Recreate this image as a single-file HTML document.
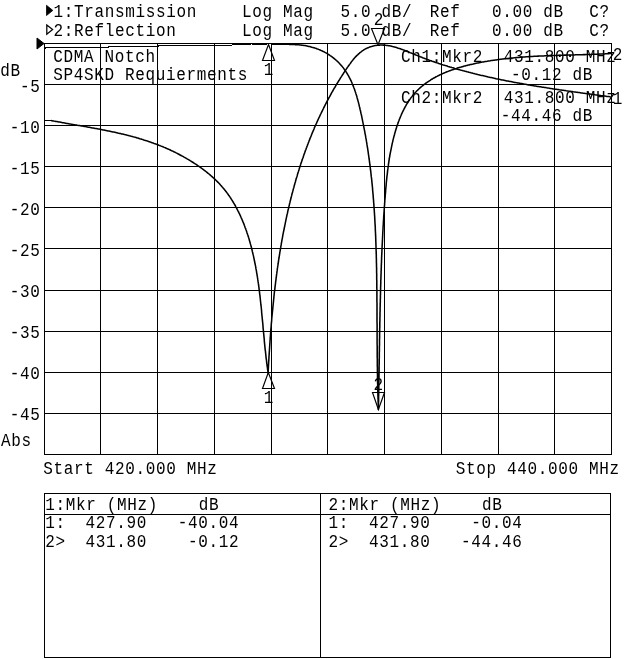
<!DOCTYPE html>
<html><head><meta charset="utf-8"><title>Network analyzer plot</title>
<style>
html,body{margin:0;padding:0;background:#fff}
body{width:640px;height:659px;overflow:hidden;position:relative}
svg{position:absolute;left:0;top:0;display:block}
text{font-family:"Liberation Mono",monospace;font-size:16.0px;letter-spacing:0.65px;fill:#000;white-space:pre}
.g line,.g rect{stroke:#000;stroke-width:1;fill:none;shape-rendering:crispEdges;stroke-linecap:square}
.tr{fill:none;stroke:#000;stroke-width:1.55;stroke-linejoin:round}
.trh{fill:none;stroke:#000;stroke-width:1;shape-rendering:crispEdges}
.mk{fill:none;stroke:#000;stroke-width:1.15}
</style></head><body>
<svg width="640" height="659" viewBox="0 0 640 659">
<rect x="0" y="0" width="640" height="659" fill="#fff"/>
<g class="g">
<line x1="44.50" y1="43.5" x2="44.50" y2="454.5"/>
<line x1="100.50" y1="43.5" x2="100.50" y2="454.5"/>
<line x1="157.50" y1="43.5" x2="157.50" y2="454.5"/>
<line x1="214.50" y1="43.5" x2="214.50" y2="454.5"/>
<line x1="271.50" y1="43.5" x2="271.50" y2="454.5"/>
<line x1="327.50" y1="43.5" x2="327.50" y2="454.5"/>
<line x1="384.50" y1="43.5" x2="384.50" y2="454.5"/>
<line x1="441.50" y1="43.5" x2="441.50" y2="454.5"/>
<line x1="498.50" y1="43.5" x2="498.50" y2="454.5"/>
<line x1="554.50" y1="43.5" x2="554.50" y2="454.5"/>
<line x1="611.50" y1="43.5" x2="611.50" y2="454.5"/>
<line x1="44.5" y1="43.50" x2="611.5" y2="43.50"/>
<line x1="44.5" y1="84.50" x2="611.5" y2="84.50"/>
<line x1="44.5" y1="125.50" x2="611.5" y2="125.50"/>
<line x1="44.5" y1="166.50" x2="611.5" y2="166.50"/>
<line x1="44.5" y1="207.50" x2="611.5" y2="207.50"/>
<line x1="44.5" y1="248.50" x2="611.5" y2="248.50"/>
<line x1="44.5" y1="290.50" x2="611.5" y2="290.50"/>
<line x1="44.5" y1="331.50" x2="611.5" y2="331.50"/>
<line x1="44.5" y1="372.50" x2="611.5" y2="372.50"/>
<line x1="44.5" y1="413.50" x2="611.5" y2="413.50"/>
<line x1="44.5" y1="454.50" x2="611.5" y2="454.50"/>
<rect x="44.5" y="493.5" width="566" height="164"/>
<line x1="44.5" y1="514.5" x2="610.5" y2="514.5"/>
<line x1="320.5" y1="493.5" x2="320.5" y2="657.5"/>
</g>
<polyline class="tr" points="51.0,120.5 52.0,120.7 53.0,120.9 53.9,121.1 54.9,121.2 55.9,121.4 56.9,121.6 57.8,121.8 58.8,122.0 59.8,122.1 60.8,122.3 61.8,122.5 62.7,122.7 63.7,122.8 64.7,123.0 65.7,123.2 66.7,123.4 67.6,123.5 68.6,123.7 69.6,123.9 70.6,124.1 71.6,124.2 72.6,124.4 73.5,124.6 74.5,124.7 75.5,124.9 76.5,125.1 77.5,125.3 78.5,125.4 79.4,125.6 80.4,125.8 81.4,125.9 82.4,126.1 83.4,126.3 84.4,126.5 85.4,126.6 86.3,126.8 87.3,127.0 88.3,127.2 89.3,127.3 90.3,127.5 91.3,127.7 92.3,127.9 93.2,128.0 94.2,128.2 95.2,128.4 96.2,128.6 97.2,128.8 98.2,129.0 99.1,129.1 100.1,129.3 101.1,129.5 102.1,129.7 103.1,129.9 104.0,130.1 105.0,130.3 106.0,130.5 107.0,130.7 108.0,130.9 108.9,131.1 109.9,131.3 110.9,131.5 111.9,131.7 112.9,131.9 113.8,132.1 114.8,132.3 115.8,132.5 116.8,132.7 117.7,133.0 118.7,133.2 119.7,133.4 120.6,133.6 121.6,133.9 122.6,134.1 123.6,134.3 124.5,134.6 125.5,134.8 126.5,135.0 127.4,135.3 128.4,135.5 129.4,135.8 130.3,136.0 131.3,136.3 132.3,136.5 133.2,136.8 134.2,137.1 135.1,137.3 136.1,137.6 137.1,137.9 138.0,138.1 139.0,138.4 139.9,138.7 140.9,139.0 141.8,139.3 142.8,139.6 143.7,139.9 144.7,140.2 145.6,140.5 146.6,140.8 147.5,141.1 148.5,141.4 149.4,141.7 150.4,142.1 151.3,142.4 152.2,142.7 153.2,143.1 154.1,143.4 155.1,143.7 156.0,144.1 156.9,144.4 157.9,144.8 158.8,145.2 159.7,145.5 160.6,145.9 161.6,146.3 162.5,146.6 163.4,147.0 164.3,147.4 165.3,147.8 166.2,148.2 167.1,148.6 168.0,149.0 168.9,149.4 169.8,149.8 170.7,150.3 171.7,150.7 172.6,151.1 173.5,151.5 174.4,152.0 175.3,152.4 176.2,152.9 177.1,153.3 177.9,153.8 178.8,154.2 179.7,154.7 180.6,155.2 181.5,155.7 182.4,156.1 183.3,156.6 184.1,157.1 185.0,157.6 185.9,158.1 186.7,158.6 187.6,159.1 188.5,159.6 189.3,160.1 190.2,160.7 191.0,161.2 191.9,161.7 192.7,162.3 193.6,162.8 194.4,163.3 195.3,163.9 196.1,164.4 196.9,165.0 197.8,165.6 198.6,166.1 199.4,166.7 200.3,167.3 201.1,167.9 201.9,168.5 202.7,169.1 203.5,169.7 204.3,170.3 205.1,170.9 205.9,171.5 206.7,172.1 207.5,172.8 208.2,173.4 209.0,174.0 209.8,174.7 210.5,175.3 211.3,176.0 212.0,176.6 212.8,177.3 213.5,178.0 214.2,178.6 215.0,179.3 215.7,180.0 216.4,180.7 217.1,181.4 217.8,182.1 218.5,182.8 219.2,183.5 219.9,184.3 220.5,185.0 221.2,185.7 221.8,186.5 222.5,187.2 223.1,188.0 223.8,188.7 224.4,189.5 225.0,190.3 225.6,191.0 226.2,191.8 226.8,192.6 227.4,193.4 228.0,194.2 228.5,195.0 229.1,195.8 229.7,196.6 230.2,197.4 230.8,198.3 231.3,199.1 231.8,199.9 232.4,200.8 232.9,201.6 233.4,202.5 233.9,203.3 234.4,204.2 234.9,205.0 235.4,205.9 235.8,206.8 236.3,207.6 236.8,208.5 237.2,209.4 237.7,210.3 238.1,211.1 238.6,212.0 239.0,212.9 239.5,213.8 239.9,214.7 240.3,215.6 240.7,216.5 241.1,217.5 241.5,218.4 241.9,219.3 242.3,220.2 242.7,221.1 243.1,222.1 243.5,223.0 243.8,223.9 244.2,224.8 244.5,225.8 244.9,226.7 245.2,227.7 245.6,228.6 245.9,229.5 246.3,230.5 246.6,231.4 246.9,232.4 247.2,233.3 247.5,234.3 247.9,235.3 248.2,236.2 248.5,237.2 248.8,238.1 249.1,239.1 249.3,240.1 249.6,241.0 249.9,242.0 250.2,243.0 250.4,243.9 250.7,244.9 251.0,245.9 251.2,246.8 251.5,247.8 251.7,248.8 252.0,249.8 252.2,250.7 252.4,251.7 252.7,252.7 252.9,253.7 253.1,254.6 253.4,255.6 253.6,256.6 253.8,257.6 254.0,258.6 254.2,259.5 254.4,260.5 254.6,261.5 254.8,262.5 255.0,263.5 255.2,264.4 255.4,265.4 255.6,266.4 255.8,267.4 255.9,268.4 256.1,269.3 256.3,270.3 256.5,271.3 256.6,272.3 256.8,273.3 257.0,274.3 257.1,275.3 257.3,276.2 257.4,277.2 257.6,278.2 257.7,279.2 257.9,280.2 258.0,281.2 258.2,282.2 258.3,283.2 258.5,284.2 258.6,285.1 258.7,286.1 258.9,287.1 259.0,288.1 259.1,289.1 259.2,290.1 259.4,291.1 259.5,292.1 259.6,293.1 259.7,294.1 259.9,295.1 260.0,296.1 260.1,297.1 260.2,298.0 260.3,299.0 260.4,300.0 260.5,301.0 260.6,302.0 260.7,303.0 260.8,304.0 260.9,305.0 261.1,306.0 261.2,307.0 261.3,308.0 261.4,309.0 261.5,310.0 261.6,311.0 261.6,312.0 261.7,313.0 261.8,314.0 261.9,315.0 262.0,316.0 262.1,317.0 262.2,318.0 262.3,318.9 262.4,319.9 262.5,320.9 262.6,321.9 262.7,322.9 262.8,323.9 262.9,324.9 263.0,325.9 263.0,326.9 263.1,327.9 263.2,328.9 263.3,329.9 263.4,330.9 263.5,331.9 263.6,332.9 263.7,333.9 263.8,334.9 263.9,335.9 264.0,336.9 264.1,337.9 264.2,338.9 264.3,339.9 264.3,340.9 264.4,341.9 264.5,342.9 264.6,343.9 264.7,344.8 264.8,345.8 264.9,346.8 265.0,347.8 265.1,348.8 265.2,349.8 265.4,350.8 265.5,351.8 265.6,352.8 265.7,353.8 265.8,354.8 265.9,355.8 266.0,356.8 266.1,357.8 266.2,358.8 266.4,359.7 266.5,360.7 266.6,361.7 266.7,362.7 266.8,363.7 267.0,364.7 267.1,365.7 267.2,366.7 267.4,367.7 267.5,368.7 267.6,369.7 267.8,370.6 267.9,371.6 268.0,372.6 268.1,373.0 268.2,372.0 268.2,371.0 268.3,370.0 268.3,369.0 268.4,368.0 268.4,367.0 268.5,366.0 268.5,365.0 268.6,364.0 268.6,363.0 268.7,362.0 268.8,361.0 268.8,360.0 268.9,359.0 268.9,358.1 269.0,357.1 269.0,356.1 269.1,355.1 269.2,354.1 269.2,353.1 269.3,352.1 269.4,351.1 269.4,350.1 269.5,349.1 269.6,348.1 269.6,347.1 269.7,346.1 269.8,345.1 269.8,344.1 269.9,343.1 270.0,342.1 270.0,341.1 270.1,340.1 270.2,339.1 270.2,338.1 270.3,337.1 270.4,336.1 270.5,335.1 270.5,334.1 270.6,333.1 270.7,332.1 270.8,331.1 270.8,330.1 270.9,329.1 271.0,328.1 271.1,327.1 271.2,326.1 271.2,325.1 271.3,324.1 271.4,323.1 271.5,322.1 271.6,321.1 271.7,320.1 271.7,319.1 271.8,318.1 271.9,317.1 272.0,316.2 272.1,315.2 272.2,314.2 272.3,313.2 272.4,312.2 272.5,311.2 272.6,310.2 272.7,309.2 272.8,308.2 272.9,307.2 273.0,306.2 273.1,305.2 273.2,304.2 273.3,303.2 273.4,302.2 273.5,301.2 273.6,300.2 273.7,299.2 273.8,298.2 273.9,297.2 274.0,296.2 274.1,295.2 274.2,294.2 274.3,293.2 274.4,292.2 274.5,291.3 274.7,290.3 274.8,289.3 274.9,288.3 275.0,287.3 275.1,286.3 275.2,285.3 275.4,284.3 275.5,283.3 275.6,282.3 275.7,281.3 275.9,280.3 276.0,279.3 276.1,278.3 276.2,277.3 276.4,276.3 276.5,275.4 276.6,274.4 276.8,273.4 276.9,272.4 277.0,271.4 277.2,270.4 277.3,269.4 277.4,268.4 277.6,267.4 277.7,266.4 277.9,265.4 278.0,264.5 278.2,263.5 278.3,262.5 278.5,261.5 278.6,260.5 278.7,259.5 278.9,258.5 279.1,257.5 279.2,256.5 279.4,255.6 279.5,254.6 279.7,253.6 279.8,252.6 280.0,251.6 280.2,250.6 280.3,249.6 280.5,248.7 280.7,247.7 280.8,246.7 281.0,245.7 281.2,244.7 281.3,243.7 281.5,242.7 281.7,241.8 281.8,240.8 282.0,239.8 282.2,238.8 282.4,237.8 282.6,236.8 282.7,235.9 282.9,234.9 283.1,233.9 283.3,232.9 283.5,231.9 283.7,231.0 283.9,230.0 284.1,229.0 284.3,228.0 284.5,227.0 284.7,226.1 284.9,225.1 285.1,224.1 285.3,223.1 285.5,222.1 285.7,221.2 285.9,220.2 286.1,219.2 286.3,218.2 286.5,217.3 286.7,216.3 286.9,215.3 287.1,214.3 287.4,213.4 287.6,212.4 287.8,211.4 288.0,210.4 288.2,209.5 288.5,208.5 288.7,207.5 288.9,206.6 289.2,205.6 289.4,204.6 289.6,203.6 289.9,202.7 290.1,201.7 290.3,200.7 290.6,199.8 290.8,198.8 291.1,197.8 291.3,196.9 291.6,195.9 291.8,194.9 292.0,194.0 292.3,193.0 292.6,192.0 292.8,191.1 293.1,190.1 293.3,189.1 293.6,188.2 293.9,187.2 294.1,186.3 294.4,185.3 294.7,184.3 294.9,183.4 295.2,182.4 295.5,181.5 295.7,180.5 296.0,179.5 296.3,178.6 296.6,177.6 296.9,176.7 297.2,175.7 297.4,174.8 297.7,173.8 298.0,172.8 298.3,171.9 298.6,170.9 298.9,170.0 299.2,169.0 299.5,168.1 299.8,167.1 300.1,166.2 300.4,165.2 300.7,164.3 301.0,163.3 301.4,162.4 301.7,161.4 302.0,160.5 302.3,159.6 302.6,158.6 303.0,157.7 303.3,156.7 303.6,155.8 303.9,154.8 304.3,153.9 304.6,153.0 304.9,152.0 305.3,151.1 305.6,150.1 306.0,149.2 306.3,148.3 306.7,147.3 307.0,146.4 307.4,145.5 307.7,144.5 308.1,143.6 308.4,142.7 308.8,141.7 309.1,140.8 309.5,139.9 309.9,138.9 310.2,138.0 310.6,137.1 311.0,136.1 311.4,135.2 311.7,134.3 312.1,133.4 312.5,132.4 312.9,131.5 313.3,130.6 313.7,129.7 314.1,128.8 314.4,127.8 314.8,126.9 315.2,126.0 315.6,125.1 316.0,124.2 316.5,123.3 316.9,122.3 317.3,121.4 317.7,120.5 318.1,119.6 318.5,118.7 318.9,117.8 319.4,116.9 319.8,116.0 320.2,115.1 320.6,114.2 321.1,113.3 321.5,112.4 322.0,111.5 322.4,110.6 322.8,109.7 323.3,108.8 323.7,107.9 324.2,107.0 324.6,106.1 325.1,105.2 325.5,104.3 326.0,103.4 326.5,102.5 326.9,101.6 327.4,100.7 327.9,99.8 328.4,98.9 328.8,98.0 329.3,97.2 329.8,96.3 330.3,95.4 330.8,94.5 331.2,93.6 331.7,92.7 332.2,91.9 332.7,91.0 333.2,90.1 333.7,89.2 334.2,88.3 334.8,87.5 335.3,86.6 335.8,85.7 336.3,84.9 336.8,84.0 337.3,83.1 337.9,82.3 338.4,81.4 338.9,80.5 339.5,79.7 340.0,78.8 340.5,77.9 341.1,77.1 341.6,76.2 342.2,75.4 342.7,74.5 343.3,73.7 343.8,72.8 344.4,71.9 344.9,71.1 345.5,70.2 346.1,69.4 346.6,68.6 347.2,67.7 347.8,66.9 348.4,66.0 349.0,65.2 349.6,64.4 350.2,63.6 350.8,62.7 351.4,61.9 352.0,61.1 352.6,60.4 353.2,59.6 353.9,58.8 354.5,58.1 355.2,57.3 355.8,56.6 356.5,55.9 357.2,55.2 357.9,54.6 358.6,53.9 359.3,53.3 360.0,52.6 360.8,52.1 361.5,51.5 362.3,50.9 363.1,50.4 363.8,49.9 364.6,49.4 365.5,48.9 366.3,48.5 367.1,48.1 368.0,47.7 368.8,47.4 369.7,47.0 370.6,46.7 371.5,46.5 372.4,46.2 373.3,46.0 374.2,45.8 375.2,45.6 376.1,45.4 377.1,45.3 378.0,45.2 379.0,45.1 379.9,45.1 380.9,45.0 381.9,45.0 382.8,45.1 383.8,45.1 384.8,45.2 385.7,45.3 386.7,45.4 387.7,45.5 388.7,45.7 389.6,45.8 390.6,46.0 391.6,46.2 392.6,46.5 393.5,46.7 394.5,47.0 395.5,47.3 396.5,47.6 397.5,47.9 398.4,48.2 399.4,48.5 400.4,48.8 401.4,49.2 402.3,49.5 403.3,49.9 404.3,50.3 405.3,50.7 406.2,51.1 407.2,51.4 408.2,51.8 409.2,52.2 410.1,52.6 411.1,53.0 412.1,53.4 413.0,53.8 414.0,54.2 415.0,54.6 415.9,55.0 416.9,55.4 417.9,55.8 418.8,56.2 419.8,56.6 420.7,56.9 421.7,57.3 422.6,57.7 423.6,58.1 424.6,58.4 425.5,58.8 426.5,59.1 427.4,59.5 428.3,59.8 429.3,60.2 430.2,60.5 431.2,60.8 432.1,61.2 433.1,61.5 434.0,61.8 435.0,62.2 435.9,62.5 436.8,62.8 437.8,63.1 438.7,63.4 439.7,63.7 440.6,64.1 441.5,64.4 442.5,64.7 443.4,65.0 444.4,65.3 445.3,65.6 446.2,65.8 447.2,66.1 448.1,66.4 449.1,66.7 450.0,67.0 451.0,67.3 451.9,67.6 452.8,67.8 453.8,68.1 454.7,68.4 455.7,68.7 456.6,68.9 457.6,69.2 458.5,69.5 459.5,69.7 460.4,70.0 461.4,70.3 462.3,70.5 463.3,70.8 464.2,71.0 465.2,71.3 466.2,71.5 467.1,71.8 468.1,72.0 469.0,72.3 470.0,72.5 471.0,72.8 471.9,73.0 472.9,73.3 473.8,73.5 474.8,73.8 475.8,74.0 476.7,74.2 477.7,74.5 478.7,74.7 479.6,74.9 480.6,75.2 481.6,75.4 482.5,75.6 483.5,75.8 484.5,76.1 485.4,76.3 486.4,76.5 487.4,76.7 488.3,77.0 489.3,77.2 490.3,77.4 491.3,77.6 492.2,77.8 493.2,78.0 494.2,78.2 495.2,78.4 496.1,78.7 497.1,78.9 498.1,79.1 499.1,79.3 500.1,79.5 501.0,79.7 502.0,79.9 503.0,80.1 504.0,80.3 505.0,80.5 505.9,80.7 506.9,80.9 507.9,81.0 508.9,81.2 509.9,81.4 510.9,81.6 511.8,81.8 512.8,82.0 513.8,82.2 514.8,82.4 515.8,82.6 516.8,82.7 517.8,82.9 518.7,83.1 519.7,83.3 520.7,83.5 521.7,83.6 522.7,83.8 523.7,84.0 524.7,84.2 525.7,84.3 526.6,84.5 527.6,84.7 528.6,84.9 529.6,85.0 530.6,85.2 531.6,85.4 532.6,85.5 533.6,85.7 534.6,85.9 535.6,86.0 536.5,86.2 537.5,86.4 538.5,86.5 539.5,86.7 540.5,86.8 541.5,87.0 542.5,87.2 543.5,87.3 544.5,87.5 545.5,87.6 546.5,87.8 547.5,87.9 548.5,88.1 549.4,88.2 550.4,88.4 551.4,88.6 552.4,88.7 553.4,88.9 554.4,89.0 555.4,89.2 556.4,89.3 557.4,89.5 558.4,89.6 559.4,89.8 560.4,89.9 561.4,90.0 562.4,90.2 563.3,90.3 564.3,90.5 565.3,90.6 566.3,90.8 567.3,90.9 568.3,91.1 569.3,91.2 570.3,91.3 571.3,91.5 572.3,91.6 573.3,91.8 574.3,91.9 575.3,92.0 576.3,92.2 577.2,92.3 578.2,92.5 579.2,92.6 580.2,92.7 581.2,92.9 582.2,93.0 583.2,93.2 584.2,93.3 585.2,93.4 586.2,93.6 587.2,93.7 588.1,93.8 589.1,94.0 590.1,94.1 591.1,94.2 592.1,94.4 593.1,94.5 594.1,94.6 595.1,94.8 596.0,94.9 597.0,95.0 598.0,95.2 599.0,95.3 600.0,95.4 601.0,95.6 602.0,95.7 603.0,95.8 603.9,96.0 604.9,96.1 605.9,96.2 606.9,96.4 607.9,96.5 608.9,96.6 609.8,96.8 610.8,96.9 611.5,97.0"/>
<polyline class="tr" points="289.0,44.5 290.0,44.5 291.0,44.5 291.9,44.5 292.9,44.5 293.9,44.5 294.9,44.6 295.9,44.6 296.9,44.7 297.9,44.7 298.9,44.8 299.9,44.9 300.9,45.0 301.9,45.2 302.9,45.3 303.9,45.5 305.0,45.6 306.0,45.8 307.0,46.0 307.9,46.2 308.9,46.4 309.9,46.6 310.9,46.9 311.9,47.2 312.9,47.4 313.9,47.7 314.8,48.0 315.8,48.3 316.7,48.7 317.7,49.0 318.6,49.4 319.6,49.8 320.5,50.2 321.4,50.6 322.3,51.0 323.3,51.5 324.2,51.9 325.0,52.4 325.9,52.9 326.8,53.4 327.7,53.9 328.5,54.5 329.4,55.0 330.2,55.6 331.0,56.1 331.8,56.7 332.6,57.3 333.4,57.9 334.2,58.6 334.9,59.2 335.7,59.8 336.4,60.5 337.2,61.2 337.9,61.8 338.6,62.5 339.3,63.2 339.9,63.9 340.6,64.7 341.2,65.4 341.9,66.1 342.5,66.9 343.1,67.6 343.7,68.4 344.2,69.2 344.8,70.0 345.4,70.8 345.9,71.6 346.4,72.4 346.9,73.2 347.4,74.0 347.9,74.9 348.4,75.7 348.9,76.6 349.3,77.4 349.8,78.3 350.2,79.2 350.6,80.0 351.1,80.9 351.5,81.8 351.9,82.7 352.2,83.6 352.6,84.5 353.0,85.4 353.4,86.4 353.7,87.3 354.1,88.2 354.4,89.1 354.7,90.1 355.1,91.0 355.4,92.0 355.7,92.9 356.0,93.9 356.3,94.8 356.6,95.8 356.9,96.8 357.1,97.7 357.4,98.7 357.7,99.7 357.9,100.6 358.2,101.6 358.5,102.6 358.7,103.6 359.0,104.6 359.2,105.6 359.4,106.5 359.7,107.5 359.9,108.5 360.1,109.5 360.4,110.5 360.6,111.5 360.8,112.5 361.0,113.5 361.3,114.4 361.5,115.4 361.7,116.4 361.9,117.4 362.1,118.4 362.3,119.4 362.5,120.4 362.7,121.4 362.9,122.4 363.1,123.4 363.3,124.3 363.5,125.3 363.7,126.3 363.9,127.3 364.1,128.3 364.3,129.3 364.5,130.3 364.7,131.3 364.9,132.3 365.0,133.3 365.2,134.2 365.4,135.2 365.6,136.2 365.7,137.2 365.9,138.2 366.1,139.2 366.3,140.2 366.4,141.2 366.6,142.2 366.8,143.2 366.9,144.2 367.1,145.2 367.2,146.1 367.4,147.1 367.6,148.1 367.7,149.1 367.9,150.1 368.0,151.1 368.2,152.1 368.3,153.1 368.4,154.1 368.6,155.1 368.7,156.1 368.9,157.1 369.0,158.1 369.1,159.0 369.3,160.0 369.4,161.0 369.5,162.0 369.7,163.0 369.8,164.0 369.9,165.0 370.1,166.0 370.2,167.0 370.3,168.0 370.4,169.0 370.5,170.0 370.7,171.0 370.8,172.0 370.9,172.9 371.0,173.9 371.1,174.9 371.2,175.9 371.3,176.9 371.5,177.9 371.6,178.9 371.7,179.9 371.8,180.9 371.9,181.9 372.0,182.9 372.1,183.9 372.2,184.9 372.3,185.9 372.4,186.9 372.5,187.9 372.6,188.8 372.6,189.8 372.7,190.8 372.8,191.8 372.9,192.8 373.0,193.8 373.1,194.8 373.2,195.8 373.2,196.8 373.3,197.8 373.4,198.8 373.5,199.8 373.6,200.8 373.6,201.8 373.7,202.8 373.8,203.8 373.9,204.8 373.9,205.8 374.0,206.8 374.1,207.7 374.1,208.7 374.2,209.7 374.3,210.7 374.3,211.7 374.4,212.7 374.5,213.7 374.5,214.7 374.6,215.7 374.7,216.7 374.7,217.7 374.8,218.7 374.8,219.7 374.9,220.7 374.9,221.7 375.0,222.7 375.0,223.7 375.1,224.7 375.2,225.7 375.2,226.7 375.3,227.7 375.3,228.7 375.3,229.7 375.4,230.7 375.4,231.7 375.5,232.6 375.5,233.6 375.6,234.6 375.6,235.6 375.7,236.6 375.7,237.6 375.7,238.6 375.8,239.6 375.8,240.6 375.8,241.6 375.9,242.6 375.9,243.6 375.9,244.6 376.0,245.6 376.0,246.6 376.0,247.6 376.1,248.6 376.1,249.6 376.1,250.6 376.2,251.6 376.2,252.6 376.2,253.6 376.3,254.6 376.3,255.6 376.3,256.6 376.3,257.6 376.4,258.6 376.4,259.6 376.4,260.6 376.4,261.6 376.4,262.6 376.5,263.6 376.5,264.6 376.5,265.6 376.5,266.6 376.6,267.6 376.6,268.6 376.6,269.6 376.6,270.6 376.6,271.6 376.6,272.6 376.7,273.5 376.7,274.5 376.7,275.5 376.7,276.5 376.7,277.5 376.7,278.5 376.7,279.5 376.8,280.5 376.8,281.5 376.8,282.5 376.8,283.5 376.8,284.5 376.8,285.5 376.8,286.5 376.8,287.5 376.8,288.5 376.9,289.5 376.9,290.5 376.9,291.5 376.9,292.5 376.9,293.5 376.9,294.5 376.9,295.5 376.9,296.5 376.9,297.5 376.9,298.5 376.9,299.5 376.9,300.5 376.9,301.5 377.0,302.5 377.0,303.5 377.0,304.5 377.0,305.5 377.0,306.5 377.0,307.5 377.0,308.5 377.0,309.5 377.0,310.5 377.0,311.5 377.0,312.5 377.0,313.5 377.0,314.5 377.0,315.5 377.0,316.5 377.0,317.5 377.0,318.5 377.0,319.5 377.0,320.5 377.0,321.5 377.0,322.5 377.1,323.5 377.1,324.5 377.1,325.5 377.1,326.5 377.1,327.5 377.1,328.5 377.1,329.5 377.1,330.5 377.1,331.5 377.1,332.5 377.1,333.5 377.1,334.5 377.1,335.5 377.1,336.5 377.1,337.5 377.1,338.5 377.1,339.5 377.1,340.5 377.1,341.5 377.1,342.5 377.1,343.5 377.1,344.5 377.2,345.5 377.2,346.5 377.2,347.5 377.2,348.5 377.2,349.5 377.2,350.5 377.2,351.5 377.2,352.5 377.2,353.5 377.2,354.5 377.2,355.5 377.2,356.5 377.2,357.5 377.3,358.5 377.3,359.5 377.3,360.5 377.3,361.5 377.3,362.5 377.3,363.5 377.3,364.5 377.3,365.5 377.3,366.5 377.4,367.5 377.4,368.5 377.4,369.5 377.4,370.5 377.4,371.5 377.4,372.5 377.4,373.5 377.5,374.5 377.5,375.5 377.5,376.5 377.5,377.5 377.5,378.5 377.5,379.5 377.6,380.5 377.6,381.5 377.6,382.5 377.6,383.6 377.7,384.6 377.7,385.6 377.7,386.6 377.7,387.6 377.7,388.6 377.8,389.6 377.8,390.6 377.8,391.6 377.8,392.6 377.9,393.6 377.9,394.6 377.9,395.6 378.0,396.6 378.0,397.6 378.0,398.6 378.1,399.6 378.1,400.6 378.1,401.6 378.2,402.6 378.2,403.6 378.2,404.6 378.3,405.6 378.3,406.6 378.3,407.6 378.4,408.6 378.4,409.4 378.4,408.4 378.4,407.4 378.5,406.4 378.5,405.4 378.5,404.4 378.5,403.4 378.5,402.4 378.6,401.4 378.6,400.4 378.6,399.4 378.6,398.4 378.6,397.4 378.6,396.4 378.7,395.4 378.7,394.4 378.7,393.4 378.7,392.4 378.7,391.4 378.8,390.4 378.8,389.4 378.8,388.4 378.8,387.4 378.8,386.4 378.8,385.4 378.9,384.4 378.9,383.4 378.9,382.4 378.9,381.4 378.9,380.4 378.9,379.4 378.9,378.4 379.0,377.4 379.0,376.4 379.0,375.4 379.0,374.4 379.0,373.4 379.0,372.4 379.1,371.4 379.1,370.4 379.1,369.4 379.1,368.4 379.1,367.4 379.1,366.4 379.1,365.4 379.2,364.4 379.2,363.4 379.2,362.4 379.2,361.4 379.2,360.4 379.2,359.4 379.3,358.4 379.3,357.4 379.3,356.4 379.3,355.4 379.3,354.4 379.3,353.4 379.3,352.4 379.4,351.4 379.4,350.4 379.4,349.4 379.4,348.4 379.4,347.4 379.4,346.4 379.5,345.4 379.5,344.4 379.5,343.4 379.5,342.4 379.5,341.4 379.5,340.4 379.5,339.4 379.6,338.4 379.6,337.4 379.6,336.4 379.6,335.4 379.6,334.4 379.6,333.4 379.7,332.4 379.7,331.4 379.7,330.4 379.7,329.4 379.7,328.4 379.8,327.4 379.8,326.4 379.8,325.4 379.8,324.4 379.8,323.4 379.8,322.4 379.9,321.4 379.9,320.4 379.9,319.4 379.9,318.4 379.9,317.4 380.0,316.4 380.0,315.4 380.0,314.4 380.0,313.4 380.0,312.4 380.1,311.4 380.1,310.4 380.1,309.4 380.1,308.4 380.1,307.4 380.2,306.4 380.2,305.4 380.2,304.4 380.2,303.4 380.3,302.4 380.3,301.4 380.3,300.4 380.3,299.4 380.4,298.4 380.4,297.4 380.4,296.4 380.4,295.4 380.5,294.4 380.5,293.4 380.5,292.4 380.5,291.4 380.6,290.4 380.6,289.4 380.6,288.4 380.6,287.4 380.7,286.4 380.7,285.4 380.7,284.4 380.8,283.4 380.8,282.4 380.8,281.4 380.8,280.4 380.9,279.4 380.9,278.4 380.9,277.4 381.0,276.4 381.0,275.4 381.0,274.4 381.1,273.4 381.1,272.4 381.1,271.4 381.2,270.4 381.2,269.4 381.2,268.4 381.3,267.4 381.3,266.4 381.3,265.4 381.4,264.4 381.4,263.4 381.5,262.4 381.5,261.4 381.5,260.4 381.6,259.4 381.6,258.4 381.6,257.4 381.7,256.4 381.7,255.4 381.8,254.4 381.8,253.4 381.9,252.4 381.9,251.4 381.9,250.4 382.0,249.4 382.0,248.4 382.1,247.4 382.1,246.4 382.2,245.4 382.2,244.4 382.3,243.4 382.3,242.4 382.4,241.4 382.4,240.4 382.5,239.4 382.5,238.4 382.6,237.4 382.6,236.4 382.7,235.4 382.7,234.4 382.8,233.4 382.8,232.4 382.9,231.5 382.9,230.5 383.0,229.5 383.0,228.5 383.1,227.5 383.1,226.5 383.2,225.5 383.3,224.5 383.3,223.5 383.4,222.5 383.4,221.5 383.5,220.5 383.6,219.5 383.6,218.5 383.7,217.5 383.7,216.5 383.8,215.5 383.9,214.5 383.9,213.5 384.0,212.5 384.1,211.5 384.1,210.5 384.2,209.6 384.3,208.6 384.3,207.6 384.4,206.6 384.5,205.6 384.6,204.6 384.6,203.6 384.7,202.6 384.8,201.6 384.8,200.6 384.9,199.6 385.0,198.6 385.1,197.6 385.2,196.6 385.2,195.7 385.3,194.7 385.4,193.7 385.5,192.7 385.6,191.7 385.6,190.7 385.7,189.7 385.8,188.7 385.9,187.7 386.0,186.7 386.1,185.7 386.2,184.7 386.2,183.8 386.3,182.8 386.4,181.8 386.5,180.8 386.6,179.8 386.7,178.8 386.8,177.8 386.9,176.8 387.0,175.8 387.2,174.8 387.3,173.8 387.4,172.9 387.5,171.9 387.6,170.9 387.7,169.9 387.9,168.9 388.0,167.9 388.1,166.9 388.3,165.9 388.4,164.9 388.5,163.9 388.7,163.0 388.8,162.0 389.0,161.0 389.1,160.0 389.3,159.0 389.4,158.0 389.6,157.0 389.8,156.0 389.9,155.0 390.1,154.0 390.3,153.0 390.5,152.0 390.7,151.1 390.9,150.1 391.1,149.1 391.3,148.1 391.5,147.1 391.7,146.1 391.9,145.1 392.1,144.1 392.3,143.1 392.6,142.1 392.8,141.1 393.0,140.1 393.3,139.1 393.5,138.1 393.8,137.1 394.0,136.2 394.3,135.2 394.6,134.2 394.8,133.2 395.1,132.2 395.4,131.2 395.7,130.2 396.0,129.2 396.3,128.2 396.6,127.3 396.9,126.3 397.3,125.3 397.6,124.3 397.9,123.4 398.3,122.4 398.6,121.4 399.0,120.5 399.3,119.5 399.7,118.6 400.1,117.6 400.5,116.7 400.9,115.8 401.3,114.8 401.7,113.9 402.1,113.0 402.5,112.1 403.0,111.2 403.4,110.3 403.9,109.4 404.3,108.5 404.8,107.6 405.3,106.7 405.8,105.9 406.2,105.0 406.7,104.1 407.3,103.3 407.8,102.5 408.3,101.6 408.8,100.8 409.4,100.0 410.0,99.2 410.5,98.4 411.1,97.6 411.7,96.9 412.3,96.1 412.9,95.3 413.5,94.6 414.1,93.9 414.8,93.1 415.4,92.4 416.1,91.7 416.7,91.0 417.4,90.4 418.1,89.7 418.8,89.0 419.5,88.4 420.2,87.7 420.9,87.1 421.6,86.5 422.4,85.9 423.1,85.3 423.9,84.7 424.6,84.1 425.4,83.5 426.2,83.0 427.0,82.4 427.8,81.8 428.6,81.3 429.4,80.8 430.2,80.3 431.0,79.7 431.8,79.2 432.7,78.7 433.5,78.2 434.4,77.8 435.2,77.3 436.1,76.8 437.0,76.4 437.8,75.9 438.7,75.5 439.6,75.0 440.5,74.6 441.4,74.2 442.3,73.8 443.2,73.4 444.1,73.0 445.0,72.6 445.9,72.2 446.9,71.8 447.8,71.5 448.7,71.1 449.7,70.7 450.6,70.4 451.6,70.1 452.5,69.7 453.5,69.4 454.4,69.1 455.4,68.7 456.4,68.4 457.3,68.1 458.3,67.8 459.3,67.5 460.3,67.2 461.2,67.0 462.2,66.7 463.2,66.4 464.2,66.1 465.2,65.9 466.2,65.6 467.2,65.4 468.2,65.1 469.2,64.9 470.2,64.6 471.2,64.4 472.2,64.2 473.2,64.0 474.2,63.7 475.2,63.5 476.2,63.3 477.2,63.1 478.2,62.9 479.2,62.7 480.2,62.5 481.2,62.3 482.2,62.1 483.2,62.0 484.2,61.8 485.2,61.6 486.2,61.4 487.2,61.3 488.2,61.1 489.2,60.9 490.2,60.8 491.2,60.6 492.2,60.5 493.2,60.3 494.2,60.2 495.2,60.0 496.2,59.9 497.2,59.7 498.2,59.6 499.2,59.5 500.2,59.3 501.2,59.2 502.2,59.1 503.2,59.0 504.2,58.8 505.2,58.7 506.2,58.6 507.2,58.5 508.2,58.4 509.2,58.3 510.2,58.2 511.2,58.1 512.2,58.0 513.1,57.9 514.1,57.8 515.1,57.7 516.1,57.6 517.1,57.5 518.1,57.4 519.1,57.4 520.1,57.3 521.1,57.2 522.1,57.1 523.0,57.1 524.0,57.0 525.0,56.9 526.0,56.8 527.0,56.8 528.0,56.7 529.0,56.6 530.0,56.6 531.0,56.5 531.9,56.5 532.9,56.4 533.9,56.3 534.9,56.3 535.9,56.2 536.9,56.2 537.9,56.1 538.8,56.1 539.8,56.0 540.8,56.0 541.8,55.9 542.8,55.9 543.8,55.9 544.8,55.8 545.8,55.8 546.7,55.7 547.7,55.7 548.7,55.7 549.7,55.6 550.7,55.6 551.7,55.5 552.7,55.5 553.7,55.5 554.7,55.4 555.6,55.4 556.6,55.4 557.6,55.4 558.6,55.3 559.6,55.3 560.6,55.3 561.6,55.2 562.6,55.2 563.6,55.2 564.6,55.1 565.5,55.1 566.5,55.1 567.5,55.1 568.5,55.0 569.5,55.0 570.5,55.0 571.5,55.0 572.5,54.9 573.5,54.9 574.5,54.9 575.5,54.8 576.5,54.8 577.5,54.8 578.5,54.8 579.5,54.7 580.5,54.7 581.5,54.7 582.5,54.7 583.5,54.6 584.5,54.6 585.5,54.6 586.5,54.5 587.5,54.5 588.5,54.5 589.5,54.4 590.5,54.4 591.5,54.4 592.5,54.3 593.5,54.3 594.5,54.3 595.5,54.2 596.5,54.2 597.5,54.2 598.5,54.1 599.5,54.1 600.6,54.0 601.6,54.0 602.6,53.9 603.6,53.9 604.6,53.9 605.6,53.8 606.6,53.8 607.6,53.7 608.7,53.7 609.7,53.6 610.7,53.5 611.5,53.5"/>
<polyline class="trh" points="45.5,48.5 45.5,47.5 108.0,47.5 109.0,46.5 158.0,46.5 159.0,45.5 231.5,45.5 232.5,44.5 241.0,44.5 241.5,43.5 242.5,43.5 243.0,44.5 250.5,44.5 251.0,43.5 252.5,43.5 253.0,44.5 266.5,44.5 267.0,43.5 271.5,43.5 272.0,44.5 275.5,44.5 276.0,43.5 276.5,44.5 281.5,44.5 282.0,43.5 282.5,43.5 283.0,44.5 290.0,44.5"/>
<polyline class="trh" points="44.5,120.5 51.5,120.5"/>
<polygon class="mk" points="268.5,44.5 262.5,60.5 274.5,60.5"/>
<polygon class="mk" points="268.3,372.5 262.5,388.5 274.5,388.5"/>
<polygon class="mk" points="378,44.8 371.5,28.5 384.5,28.5"/>
<polygon class="mk" points="378.4,409.5 372.5,392.5 384.5,392.5"/>
<polygon points="37,38 44,43.5 37,49" fill="#000" stroke="#000" stroke-width="1"/>
<polygon points="46.5,5.3 52.8,10.4 46.5,15.5" fill="#000" stroke="#000" stroke-width="0.8"/>
<polygon points="46.8,25 52.6,29.6 46.8,34.2" fill="none" stroke="#000" stroke-width="1.25"/>
<text transform="translate(53.60,16.80) scale(1,1.17)">1:Transmission</text>
<text transform="translate(242.00,16.80) scale(1,1.17)">Log Mag</text>
<text transform="translate(340.50,16.80) scale(1,1.17)">5.0 dB/</text>
<text transform="translate(429.75,16.80) scale(1,1.17)">Ref</text>
<text transform="translate(492.00,16.80) scale(1,1.17)">0.00 dB</text>
<text transform="translate(589.25,16.80) scale(1,1.17)">C?</text>
<text transform="translate(53.60,36.30) scale(1,1.17)">2:Reflection</text>
<text transform="translate(242.00,36.30) scale(1,1.17)">Log Mag</text>
<text transform="translate(340.50,36.30) scale(1,1.17)">5.0 dB/</text>
<text transform="translate(429.75,36.30) scale(1,1.17)">Ref</text>
<text transform="translate(492.00,36.30) scale(1,1.17)">0.00 dB</text>
<text transform="translate(589.25,36.30) scale(1,1.17)">C?</text>
<text transform="translate(401.00,61.50) scale(1,1.17)">Ch1:Mkr2</text>
<text transform="translate(503.75,61.50) scale(1,1.17)">431.800 MHz</text>
<text transform="translate(511.00,79.50) scale(1,1.17)">-0.12 dB</text>
<text transform="translate(401.00,102.60) scale(1,1.17)">Ch2:Mkr2</text>
<text transform="translate(503.75,102.80) scale(1,1.17)">431.800 MHz</text>
<text transform="translate(500.80,120.50) scale(1,1.17)">-44.46 dB</text>
<text transform="translate(53.30,61.60) scale(1,1.17)">CDMA Notch</text>
<text transform="translate(53.25,79.75) scale(1,1.17)">SP4SKD Requierments</text>
<text transform="translate(0.25,75.75) scale(1,1.17)">dB</text>
<text transform="translate(19.90,91.60) scale(1,1.17)">-5</text>
<text transform="translate(9.65,132.62) scale(1,1.17)">-10</text>
<text transform="translate(9.65,173.64) scale(1,1.17)">-15</text>
<text transform="translate(9.65,214.66) scale(1,1.17)">-20</text>
<text transform="translate(9.65,255.68) scale(1,1.17)">-25</text>
<text transform="translate(9.65,296.70) scale(1,1.17)">-30</text>
<text transform="translate(9.65,337.72) scale(1,1.17)">-35</text>
<text transform="translate(9.65,378.74) scale(1,1.17)">-40</text>
<text transform="translate(9.65,419.76) scale(1,1.17)">-45</text>
<text transform="translate(1.00,445.60) scale(1,1.17)">Abs</text>
<text transform="translate(43.25,473.80) scale(1,1.17)">Start 420.000 MHz</text>
<text transform="translate(455.75,474.00) scale(1,1.17)">Stop 440.000 MHz</text>
<text transform="translate(45.20,510.00) scale(1,1.17)">1:Mkr (MHz)</text>
<text transform="translate(198.70,510.00) scale(1,1.17)">dB</text>
<text transform="translate(45.20,528.00) scale(1,1.17)">1:</text>
<text transform="translate(85.60,528.00) scale(1,1.17)">427.90</text>
<text transform="translate(177.75,528.00) scale(1,1.17)">-40.04</text>
<text transform="translate(45.20,546.75) scale(1,1.17)">2&gt;</text>
<text transform="translate(85.60,546.75) scale(1,1.17)">431.80</text>
<text transform="translate(188.00,546.75) scale(1,1.17)">-0.12</text>
<text transform="translate(328.50,510.00) scale(1,1.17)">2:Mkr (MHz)</text>
<text transform="translate(482.00,510.00) scale(1,1.17)">dB</text>
<text transform="translate(328.50,528.00) scale(1,1.17)">1:</text>
<text transform="translate(368.90,528.00) scale(1,1.17)">427.90</text>
<text transform="translate(471.30,528.00) scale(1,1.17)">-0.04</text>
<text transform="translate(328.50,546.75) scale(1,1.17)">2&gt;</text>
<text transform="translate(368.90,546.75) scale(1,1.17)">431.80</text>
<text transform="translate(461.05,546.75) scale(1,1.17)">-44.46</text>
<text transform="translate(373.75,25.00) scale(1,1.17)">2</text>
<text transform="translate(263.70,74.50) scale(1,1.17)">1</text>
<text transform="translate(263.70,402.50) scale(1,1.17)">1</text>
<text transform="translate(373.50,390.00) scale(1,1.17)">2</text>
<text transform="translate(612.80,59.50) scale(1,1.17)">2</text>
<text transform="translate(612.80,104.30) scale(1,1.17)">1</text>
</svg></body></html>
